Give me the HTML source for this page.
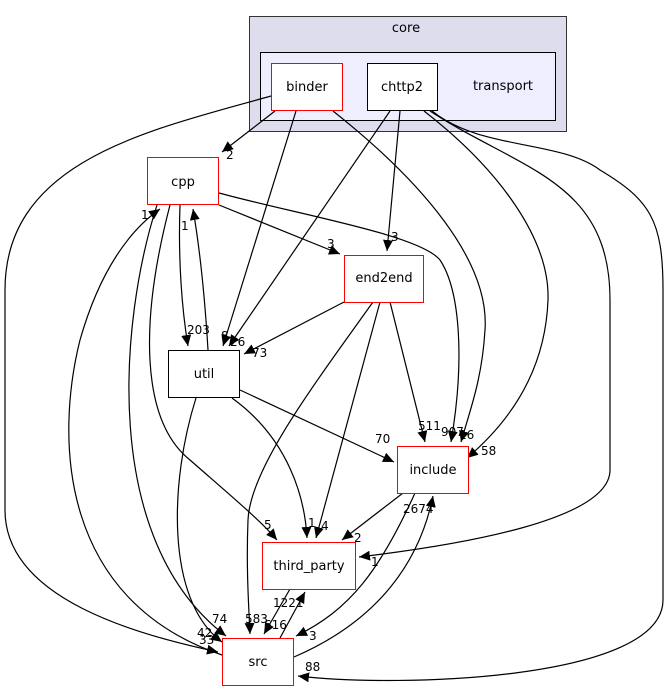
<!DOCTYPE html>
<html><head><meta charset="utf-8"><style>
html,body{margin:0;padding:0;background:#fff;}
svg{display:block;}
text{font-family:"DejaVu Sans","Liberation Sans",sans-serif;font-size:13px;fill:#000;}
.lbl{font-size:12px;}
.e{fill:none;stroke:#000;stroke-width:1.2;marker-end:url(#a);}
</style></head><body>
<svg width="669" height="692" viewBox="0 0 669 692" xmlns="http://www.w3.org/2000/svg">
<defs><marker id="a" markerUnits="userSpaceOnUse" markerWidth="12" markerHeight="10" refX="11" refY="5" orient="auto"><path d="M0,0 L11,5 L0,10 z" fill="#000"/></marker></defs>
<rect x="249.5" y="16.5" width="317" height="115" fill="#ddddee" stroke="#333"/>
<text x="406" y="32" text-anchor="middle">core</text>
<rect x="260.5" y="52.5" width="295" height="68" fill="#eeeeff" stroke="#000"/>
<text x="503" y="90" text-anchor="middle">transport</text>

<path class="e" d="M275,111 L222,152"/>
<path class="e" d="M296,111 L223,346"/>
<path class="e" d="M333,111 C420,180 490,260 485,330 C482,380 470,410 461,442"/>
<path class="e" d="M271,96 C150,130 5,160 5,290 L5,510 C5,600 140,635 218,652"/>
<path class="e" d="M390,111 L229,346"/>
<path class="e" d="M400,111 L387,251"/>
<path class="e" d="M424,111 C500,170 550,240 548,300 C545,380 500,430 467,458"/>
<path class="e" d="M430,111 C520,170 610,180 610,300 L610,470 C610,520 460,545 359,557"/>
<path class="e" d="M432,111 C480,150 560,140 600,170 C650,200 663,220 663,290 L663,600 C663,680 400,688 298,676"/>
<path class="e" d="M180,205 C178,260 182,310 188,346"/>
<path class="e" d="M208,350 C205,300 200,250 193,209"/>
<path class="e" d="M219,205 L340,254"/>
<path class="e" d="M219,193 C300,215 420,235 440,260 C460,290 465,360 451,442"/>
<path class="e" d="M170,205 C140,320 140,420 190,460 C230,495 260,520 277,540"/>
<path class="e" d="M157,205 C120,320 100,540 226,636"/>
<path class="e" d="M222,655 C60,600 55,440 80,340 C100,270 130,230 160,209"/>
<path class="e" d="M344,302 L244,354"/>
<path class="e" d="M390,302 L425,442"/>
<path class="e" d="M380,302 L316,538"/>
<path class="e" d="M373,302 C310,390 250,470 248,520 C246,570 249,610 250,634"/>
<path class="e" d="M240,390 L394,462"/>
<path class="e" d="M232,398 C290,440 305,500 307,538"/>
<path class="e" d="M196,398 C170,480 165,600 222,642"/>
<path class="e" d="M403,493 L342,540"/>
<path class="e" d="M415,493 C380,570 350,610 296,636"/>
<path class="e" d="M294,657 C380,620 420,560 433,496"/>
<path class="e" d="M290,589 L264,634"/>
<path class="e" d="M280,638 L305,592"/>

<rect x="271.5" y="63.5" width="71" height="47" fill="#fff" stroke="#f00"/>
<text x="307" y="91" text-anchor="middle">binder</text>
<rect x="367.5" y="63.5" width="70" height="47" fill="#fff" stroke="#000"/>
<text x="402" y="91" text-anchor="middle">chttp2</text>
<rect x="147.5" y="157.5" width="71" height="47" fill="#fff" stroke="#f00"/>
<text x="183" y="186" text-anchor="middle">cpp</text>
<rect x="344.5" y="255.5" width="79" height="47" fill="#fff" stroke="#f00"/>
<text x="384" y="282" text-anchor="middle">end2end</text>
<rect x="168.5" y="350.5" width="71" height="47" fill="#fff" stroke="#000"/>
<text x="204" y="378" text-anchor="middle">util</text>
<rect x="397.5" y="446.5" width="71" height="47" fill="#fff" stroke="#f00"/>
<text x="433" y="474" text-anchor="middle">include</text>
<rect x="262.5" y="542.5" width="93" height="47" fill="#fff" stroke="#f00"/>
<text x="309" y="570" text-anchor="middle">third_party</text>
<rect x="222.5" y="638.5" width="71" height="47" fill="#fff" stroke="#f00"/>
<text x="258" y="666" text-anchor="middle">src</text>

<g class="lbl">
<text class="lbl" x="226" y="159">2</text>
<text class="lbl" x="221" y="340">8</text>
<text class="lbl" x="230" y="346">26</text>
<text class="lbl" x="252" y="357">73</text>
<text class="lbl" x="187" y="334">203</text>
<text class="lbl" x="181" y="230">1</text>
<text class="lbl" x="141" y="219">1</text>
<text class="lbl" x="327" y="248">3</text>
<text class="lbl" x="391" y="241">3</text>
<text class="lbl" x="418" y="430">511</text>
<text class="lbl" x="441" y="436">907</text>
<text class="lbl" x="459" y="439">16</text>
<text class="lbl" x="481" y="455">58</text>
<text class="lbl" x="375" y="443">70</text>
<text class="lbl" x="264" y="529">5</text>
<text class="lbl" x="308" y="527">1</text>
<text class="lbl" x="321" y="530">4</text>
<text class="lbl" x="354" y="542">2</text>
<text class="lbl" x="371" y="566">1</text>
<text class="lbl" x="403" y="513">2674</text>
<text class="lbl" x="273" y="607">1221</text>
<text class="lbl" x="212" y="623">74</text>
<text class="lbl" x="245" y="623">583</text>
<text class="lbl" x="264" y="629">616</text>
<text class="lbl" x="197" y="637">42</text>
<text class="lbl" x="199" y="644">33</text>
<text class="lbl" x="309" y="640">3</text>
<text class="lbl" x="305" y="671">88</text>
</g>
</svg>
</body></html>
